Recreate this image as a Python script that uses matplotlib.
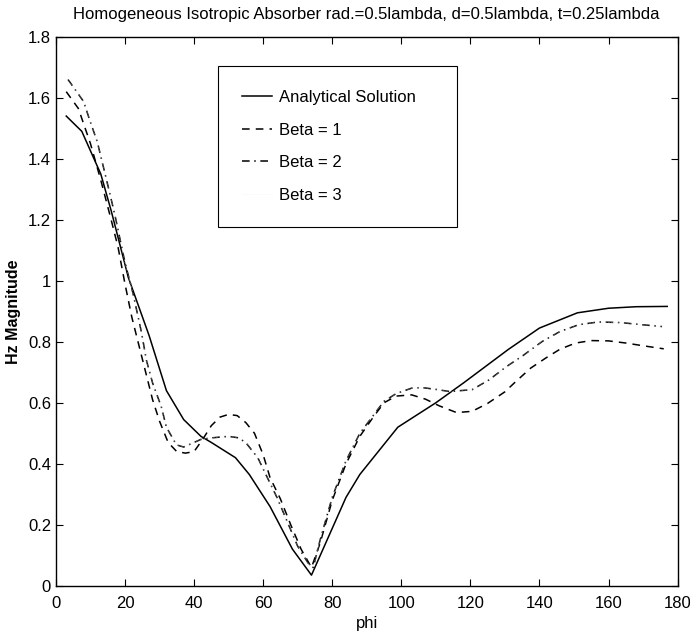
import numpy as np
import matplotlib
matplotlib.use('Agg')
import matplotlib.pyplot as plt

plt.rcParams['font.family'] = ['Liberation Sans', 'DejaVu Sans']

# analytical solution
phi_a = [3, 7.5, 13, 16, 21, 27, 32, 37, 42, 45, 52, 56, 62, 68.5, 74, 84, 88, 99, 110, 118, 131, 140, 151, 160, 168, 177]
hz_a = [1.54, 1.49, 1.35, 1.23, 1.01, 0.82, 0.64, 0.545, 0.49, 0.47, 0.42, 0.365, 0.26, 0.12, 0.035,
        0.29, 0.365, 0.52, 0.60, 0.665, 0.775, 0.845, 0.895, 0.91, 0.915, 0.916]

# beta = 1
phi_b1 = [3, 6.5, 10, 13, 16, 18, 20, 22, 24, 26, 28, 30, 32.5, 35, 37.5, 40, 42.5, 45, 47.5, 50, 52.5,
          55, 57.5, 60, 62, 65, 68, 71, 74, 76.5, 80, 84, 88, 92, 95, 98.5, 103, 107, 111, 116, 120.5,
          125, 130, 133, 137.5, 142, 146, 150.5, 155, 160, 165, 170, 176]
hz_b1 = [1.62, 1.565, 1.45, 1.33, 1.2, 1.11, 0.99, 0.88, 0.79, 0.70, 0.61, 0.54, 0.47, 0.44, 0.435,
         0.44, 0.48, 0.525, 0.553, 0.562, 0.558, 0.535, 0.5, 0.43, 0.355, 0.285, 0.2, 0.12, 0.06,
         0.14, 0.28, 0.40, 0.49, 0.555, 0.60, 0.622, 0.626, 0.612, 0.59, 0.568, 0.572, 0.598, 0.636,
         0.668, 0.714, 0.748, 0.776, 0.796, 0.804, 0.803, 0.796, 0.787, 0.777]

# beta = 2
phi_b2 = [3.5, 8, 10, 12, 15, 17, 20, 22.3, 24.8, 26.2, 28, 30.5, 32, 34.9, 37, 40, 42, 45, 50, 53,
          55.1, 58.5, 61, 64, 67, 70, 73, 74.5, 76.5, 80, 84, 88, 92, 95, 98.5, 103, 106, 110, 114,
          120.5, 125.4, 130.5, 135.5, 140.8, 146, 151.4, 157, 163.5, 169.7, 175.5]
hz_b2 = [1.66, 1.588, 1.52, 1.455, 1.315, 1.22, 1.06, 0.96, 0.83, 0.74, 0.665, 0.588, 0.52, 0.462,
         0.455, 0.47, 0.48, 0.485, 0.49, 0.485, 0.468, 0.419, 0.36, 0.29, 0.21, 0.13, 0.075, 0.06,
         0.15, 0.29, 0.41, 0.5, 0.56, 0.605, 0.63, 0.648, 0.65, 0.644, 0.637, 0.643, 0.675, 0.719,
         0.757, 0.801, 0.834, 0.856, 0.865, 0.863, 0.856, 0.85]

# beta = 3 (faint in the scan, close to beta = 2)
phi_b3 = phi_b2
hz_b3 = hz_b2

fig = plt.figure(figsize=(6.9, 6.34), dpi=100)
ax = fig.add_axes([0.081, 0.076, 0.901, 0.866])

ax.plot(phi_a, hz_a, color='black', lw=1.1, label='Analytical Solution')
ax.plot(phi_b1, hz_b1, color='black', lw=1.1, ls=(0, (5, 4)), label='Beta = 1')
ax.plot(phi_b2, hz_b2, color='black', lw=1.1, ls=(0, (5, 3, 1, 3)), label='Beta = 2')
ax.plot(phi_b3, hz_b3, color='0.92', lw=0.4, ls=':', label='Beta = 3')

ax.set_xlim(0, 180)
ax.set_ylim(0, 1.8)
ax.set_xticks(np.arange(0, 181, 20))
ax.set_yticks(np.arange(0, 1.81, 0.2))
ax.set_yticklabels(['0', '0.2', '0.4', '0.6', '0.8', '1', '1.2', '1.4', '1.6', '1.8'])
ax.tick_params(direction='in', top=True, right=True, labelsize=12, length=5, width=0.8)
ax.tick_params(axis='x', pad=7)
for s in ax.spines.values():
    s.set_linewidth(1.0)

ax.set_xlabel('phi', fontsize=12, labelpad=4)
ax.set_ylabel('Hz Magnitude', fontsize=11.5, fontweight='bold', labelpad=5)
ax.set_title('Homogeneous Isotropic Absorber rad.=0.5lambda, d=0.5lambda, t=0.25lambda',
             fontsize=12, pad=13)

leg = ax.legend(loc='upper left', bbox_to_anchor=(0.26, 0.652, 0.385, 0.295), mode='expand',
                fontsize=12, frameon=True, fancybox=False, edgecolor='black',
                handlelength=1.8, labelspacing=1.05, borderpad=1.45, borderaxespad=0,
                handletextpad=0.45)
leg.get_frame().set_linewidth(0.8)
leg.get_frame().set_alpha(1)

fig.savefig('out.png', dpi=100)
